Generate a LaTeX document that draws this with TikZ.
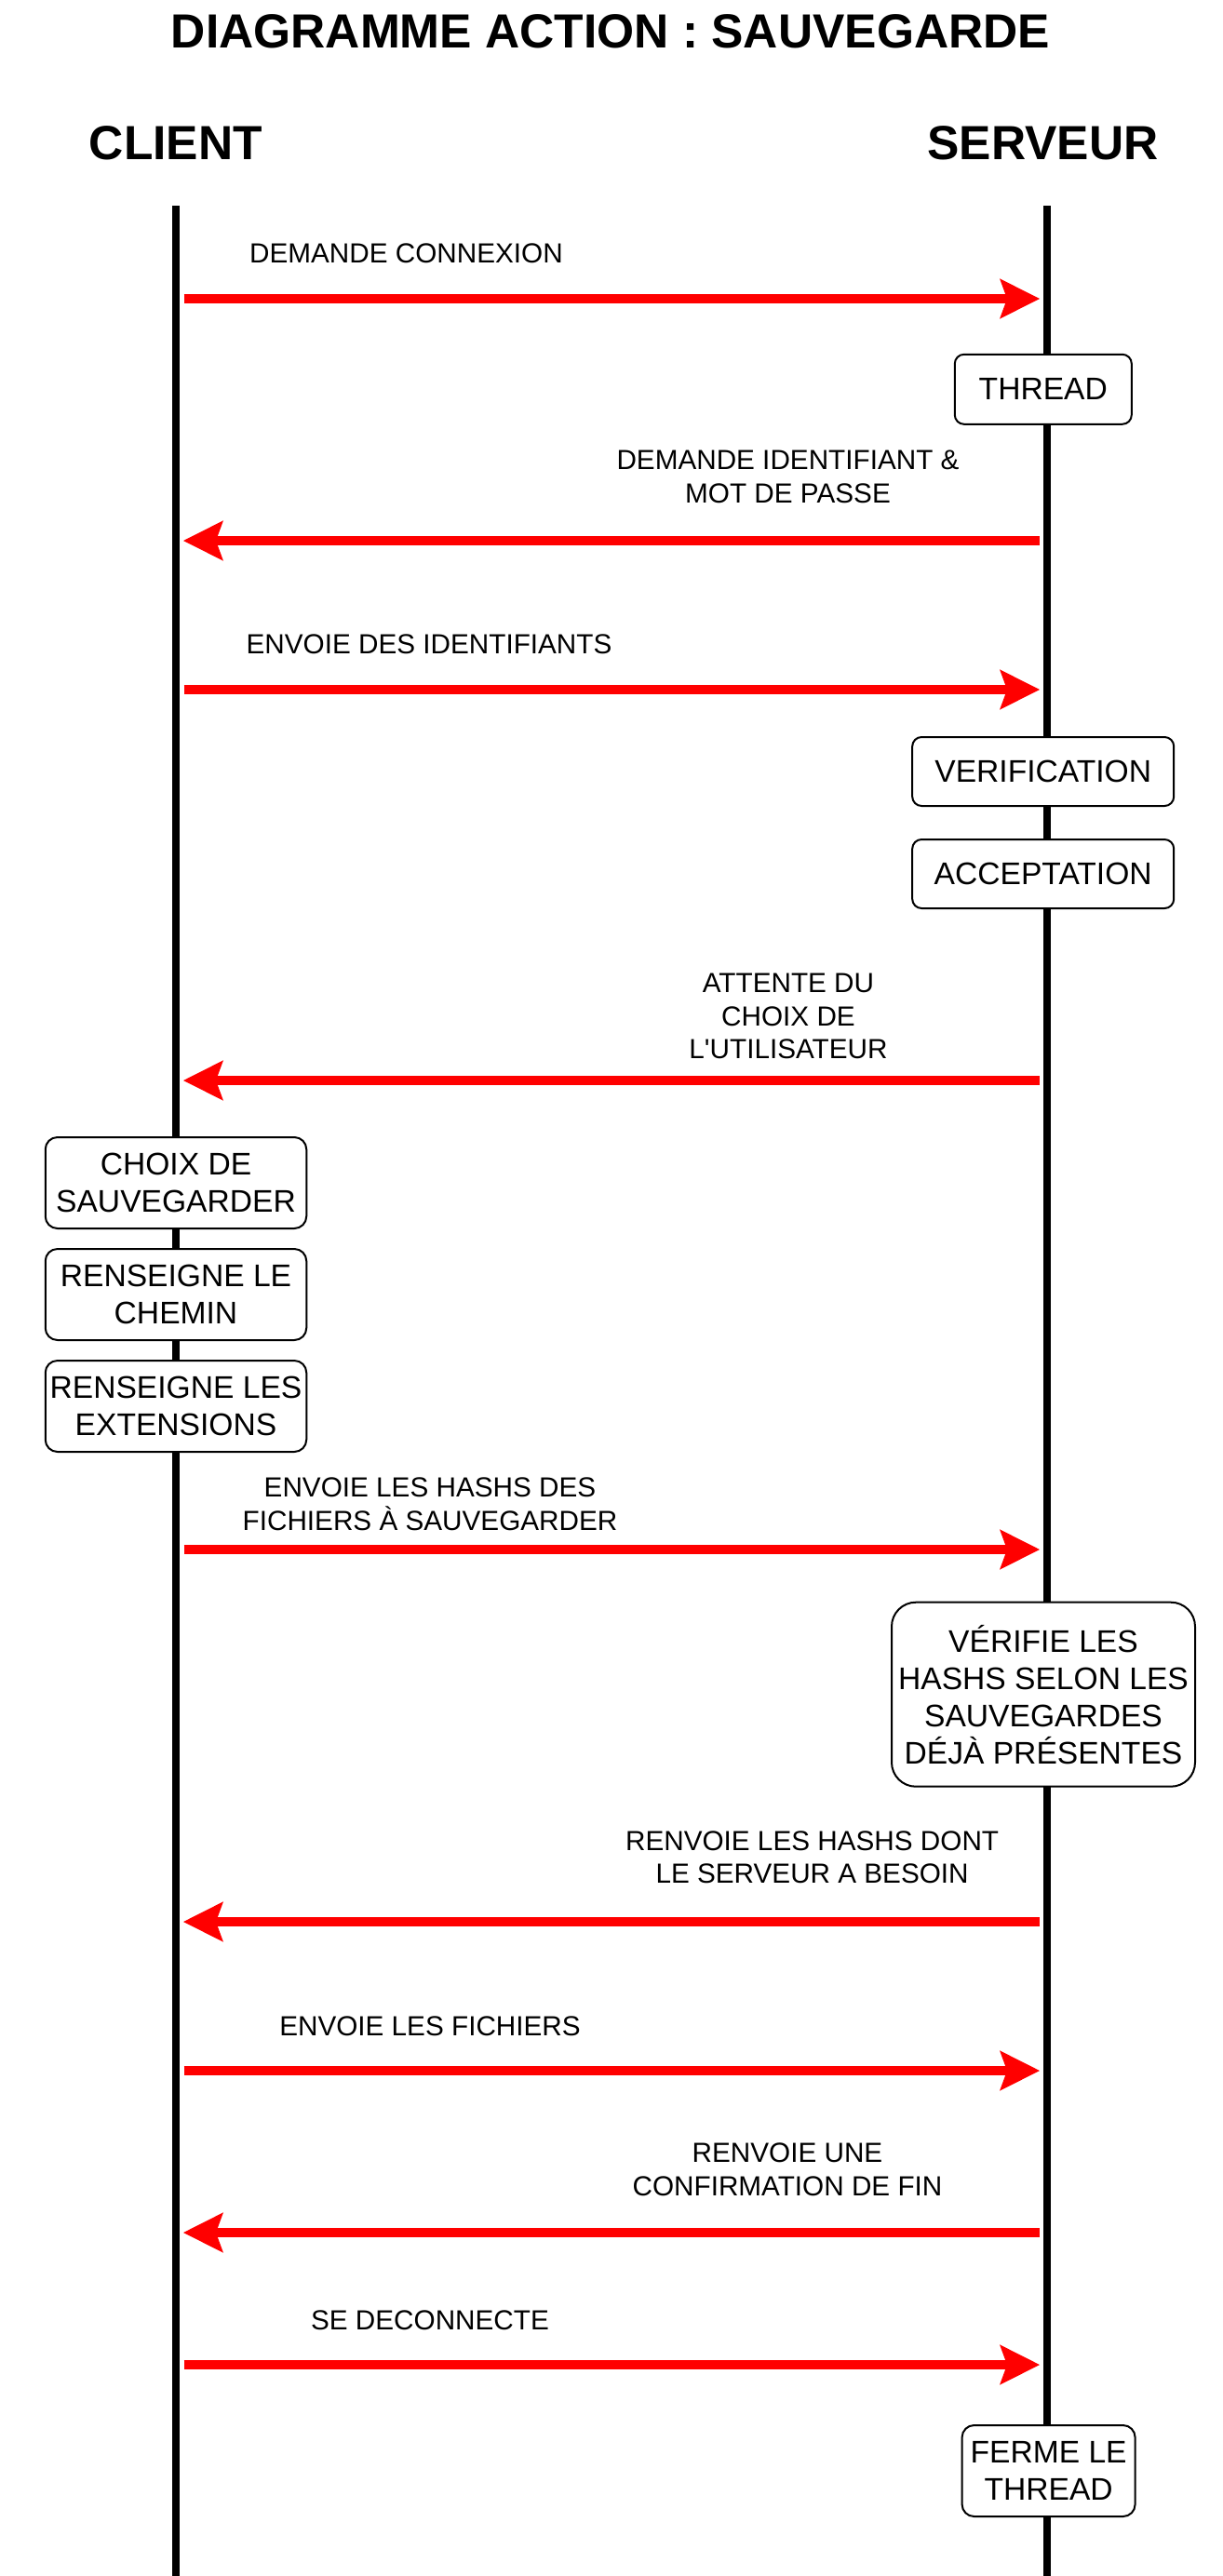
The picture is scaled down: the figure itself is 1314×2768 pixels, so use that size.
\documentclass[tikz,border=0pt]{standalone}
\usepackage{fontspec}
\setmainfont{Liberation Sans}
\usetikzlibrary{arrows.meta}
\newcommand\hdfont{\fontsize{51.5}{60}\selectfont\bfseries}
\newcommand\lbfont{\fontsize{29.7}{35.5}\selectfont}
\newcommand\bxfont{\fontsize{33.6}{40}\selectfont}
\begin{document}
\begin{tikzpicture}[x=1pt,y=-1pt,
  heading/.style={font=\hdfont, inner sep=0pt, anchor=base},
  lbl/.style={font=\lbfont, align=center, inner sep=0pt},
  actbox/.style={draw=black, line width=2pt, fill=white, rounded corners=#1,
    font=\bxfont, align=center, inner sep=0pt},
  actbox/.default=10pt,
  life/.style={draw=black, line width=7.5pt},
  msg/.style={draw=red, line width=10pt,
    -{Stealth[length=43pt,width=43.4pt,inset=8pt,line width=0pt]},
    shorten >=8pt, shorten <=8.5pt}
]
\fill[white] (0,0) rectangle (1314,2768);
\useasboundingbox (0,0) rectangle (1314,2768);

% headings
\node[heading] (title) at (656,51.7) {DIAGRAMME ACTION : SAUVEGARDE};
\node[heading] (client) at (188.8,171.7) {CLIENT};
\node[heading] (serveur) at (1120.5,171.7) {SERVEUR};

% lifelines
\coordinate (ctop) at (189,221);
\coordinate (cbot) at (189,2768);
\coordinate (stop) at (1125,221);
\coordinate (sbot) at (1125,2768);
\draw[life] (ctop) -- (cbot);
\draw[life] (stop) -- (sbot);

% activity boxes
\node[actbox=10pt, minimum width=190pt, minimum height=75pt] (thread) at (1120.8,418.3) {THREAD};
\node[actbox=10pt, minimum width=281pt, minimum height=74pt] (verif) at (1120.7,829) {VERIFICATION};
\node[actbox=10pt, minimum width=281pt, minimum height=74pt] (accept) at (1120.7,939) {ACCEPTATION};
\node[actbox=13pt, minimum width=280.5pt, minimum height=98pt] (choix) at (189,1271) {CHOIX DE\\SAUVEGARDER};
\node[actbox=13pt, minimum width=280.5pt, minimum height=98pt] (chemin) at (189,1391) {RENSEIGNE LE\\CHEMIN};
\node[actbox=13pt, minimum width=280.5pt, minimum height=98pt] (ext) at (189,1511) {RENSEIGNE LES\\EXTENSIONS};
\node[actbox=26pt, minimum width=326pt, minimum height=198pt] (verhash) at (1121,1820.7) {VÉRIFIE LES\\HASHS SELON LES\\SAUVEGARDES\\DÉJÀ PRÉSENTES};
\node[actbox=13pt, minimum width=186pt, minimum height=98pt] (ferme) at (1126.6,2655) {FERME LE\\THREAD};

% message anchors on the lifelines
\foreach \n/\y in {1/321,2/581,3/741,4/1161,5/1665,6/2065,7/2225,8/2399,9/2541}{
  \coordinate (c\n) at (189,\y);
  \coordinate (s\n) at (1125,\y);
}

% messages
\draw[msg] (c1) -- (s1);
\draw[msg] (s2) -- (c2);
\draw[msg] (c3) -- (s3);
\draw[msg] (s4) -- (c4);
\draw[msg] (c5) -- (s5);
\draw[msg] (s6) -- (c6);
\draw[msg] (c7) -- (s7);
\draw[msg] (s8) -- (c8);
\draw[msg] (c9) -- (s9);

% message labels
\node[lbl, anchor=base] (m1) at (436.5,282.5) {DEMANDE CONNEXION};
\node[lbl] (m2) at (846.5,512.5) {DEMANDE IDENTIFIANT \&\\MOT DE PASSE};
\node[lbl, anchor=base] (m3) at (461,702.6) {ENVOIE DES IDENTIFIANTS};
\node[lbl] (m4) at (847,1092) {ATTENTE DU\\CHOIX DE\\L\textquotesingle UTILISATEUR};
\node[lbl] (m5) at (462,1616.3) {ENVOIE LES HASHS DES\\FICHIERS À SAUVEGARDER};
\node[lbl] (m6) at (872.6,1996) {RENVOIE LES HASHS DONT\\LE SERVEUR A BESOIN};
\node[lbl, anchor=base] (m7) at (462,2187.6) {ENVOIE LES FICHIERS};
\node[lbl] (m8) at (846,2331) {RENVOIE UNE\\CONFIRMATION DE FIN};
\node[lbl, anchor=base] (m9) at (462,2503) {SE DECONNECTE};
\end{tikzpicture}
\end{document}
